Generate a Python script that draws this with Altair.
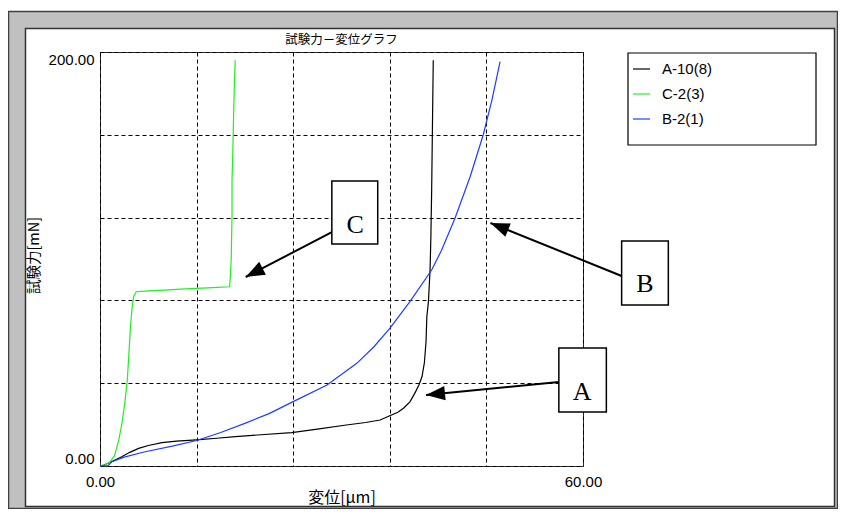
import math
import altair as alt
import pandas as pd

# ---------------- data ----------------
X_DOMAIN = [0, 60]
Y_DOMAIN = [0, 200]
X_TICKS = [0, 12, 24, 36, 48, 60]
Y_TICKS = [0, 40, 80, 120, 160, 200]

chart_title = "試験力－変位グラフ"
x_title = "変位[μm]"
y_title = "試験力[mN]"

series_names = ["A-10(8)", "C-2(3)", "B-2(1)"]
series_colors = ["#000000", "#22ee22", "#1e3cff"]

a_x = [0, 0.5, 1.0, 1.8, 2.7, 3.7, 4.8, 6.0, 7.7, 9.5, 12.0, 14.5, 16.8, 20.0, 23.8,
       27.0, 30.6, 33.0, 34.8, 36.0, 37.0, 37.7, 38.5, 39.1, 39.6, 40.0, 40.3, 40.5,
       40.6, 40.8, 41.0, 41.1, 41.2, 41.3, 41.4]
a_y = [0, 0.5, 1.3, 2.8, 4.5, 6.6, 8.5, 9.9, 11.3, 12.0, 12.6, 13.4, 14.2, 15.1, 16.1,
       17.8, 19.8, 21.0, 22.2, 24.3, 26.0, 27.9, 31.0, 35.1, 39.0, 43.1, 50.0, 60.0,
       72.1, 79.4, 94.7, 110.0, 133.0, 165.0, 196.0]

c_x = [0, 0.6, 1.2, 1.8, 2.3, 2.7, 3.1, 3.4, 3.6, 3.8, 4.0, 4.2, 4.5, 6.0, 8.0, 10.0,
       12.0, 14.0, 16.1, 16.2, 16.3, 16.4, 16.4, 16.5, 16.6, 16.7, 16.8]
c_y = [0, 0.6, 1.8, 5.0, 12.0, 20.0, 31.0, 42.0, 55.0, 68.0, 77.0, 82.0, 84.2, 84.6,
       85.0, 85.4, 85.8, 86.2, 86.6, 92.0, 100.0, 121.0, 138.0, 152.0, 170.0, 185.0, 196.0]

b_x = [0, 1.0, 1.5, 3.0, 5.6, 9.0, 12.0, 15.0, 18.0, 21.0, 24.0, 28.2, 31.9, 34.0,
       36.0, 38.5, 41.2, 42.4, 44.1, 46.0, 47.6, 48.7, 49.7]
b_y = [0, 0.2, 2.1, 4.3, 6.9, 9.6, 12.3, 16.2, 20.6, 25.3, 31.1, 39.1, 49.6, 57.5,
       66.5, 79.4, 94.7, 104.0, 119.7, 140.0, 159.9, 177.0, 195.3]

# annotations (data units)
ann_labels = ["C", "B", "A"]
ann_box_x1 = [28.8, 64.8, 57.0]
ann_box_x2 = [34.5, 70.6, 62.9]
ann_box_y1 = [107.2, 77.8, 26.1]
ann_box_y2 = [137.7, 108.7, 57.0]
ann_text_x = [31.7, 67.7, 59.9]
ann_text_y = [116.4, 87.9, 35.7]
arrow_x1 = [28.8, 64.8, 57.0]
arrow_y1 = [113.0, 91.8, 40.6]
arrow_x2 = [18.1, 48.5, 40.5]
arrow_y2 = [91.3, 117.4, 34.3]

# ---------------- layout ----------------
W, H = 483, 414
PAD = {"left": 92, "top": 44, "right": 255, "bottom": 43}
LABEL_FONT = "Liberation Sans Narrow, Arial Narrow, Liberation Sans, sans-serif"
JP_FONT = "Noto Sans CJK JP"

rows = []
for name, xs_, ys_ in [(series_names[0], a_x, a_y), (series_names[1], c_x, c_y), (series_names[2], b_x, b_y)]:
    for i, (xv, yv) in enumerate(zip(xs_, ys_)):
        rows.append({"series": name, "x": xv, "y": yv, "i": i})
curves = pd.DataFrame(rows)

xs = alt.Scale(domain=X_DOMAIN, nice=False)
ys = alt.Scale(domain=Y_DOMAIN, nice=False)

x_lab = f"datum.value == {X_DOMAIN[0]} || datum.value == {X_DOMAIN[1]} ? format(datum.value, '.2f') : ''"
y_lab = f"datum.value == {Y_DOMAIN[0]} || datum.value == {Y_DOMAIN[1]} ? format(datum.value, '.2f') : ''"

x_axis = alt.Axis(
    values=X_TICKS, labelExpr=x_lab, grid=True, gridDash=[4, 3], gridColor="black",
    gridOpacity=1, gridWidth=1, ticks=False, domain=False, labelPadding=8,
    labelFlush=False, title=x_title, titleY=31, titleBaseline="middle", titleFontSize=16)
y_axis = alt.Axis(
    values=Y_TICKS, labelExpr=y_lab, grid=True, gridDash=[4, 3], gridColor="black",
    gridOpacity=1, gridWidth=1, ticks=False, domain=False, labelPadding=6,
    labelFlush=True, title=y_title, titleX=-66, titleY=203, titleAngle=270,
    titleBaseline="middle", titleAlign="center", titleFontSize=14.5)

lines = alt.Chart(curves).mark_line(strokeWidth=1.2).encode(
    x=alt.X("x:Q", scale=xs, axis=x_axis),
    y=alt.Y("y:Q", scale=ys, axis=y_axis),
    color=alt.Color("series:N", scale=alt.Scale(domain=series_names, range=series_colors), legend=None),
    order="i:Q",
)

one = pd.DataFrame({"k": [0]})


def pix_rect(x1, y1, x2, y2, **mark):
    return alt.Chart(one).mark_rect(**mark).encode(
        x=alt.value(x1), x2=alt.value(x2), y=alt.value(y1), y2=alt.value(y2))


GRAY = "#c0c0c0"
frame = [
    pix_rect(-92, -41, 738, -23, color=GRAY),
    pix_rect(-92, 454, 738, 457, color=GRAY),
    pix_rect(-92, -23, -74, 454, color=GRAY),
    pix_rect(734, -23, 738, 454, color=GRAY),
    pix_rect(-91.5, -40.5, 737.5, 456.5, fillOpacity=0, stroke="#404040", strokeWidth=1.5),
    pix_rect(-74.5, -23.5, 734.5, 454.5, fillOpacity=0, stroke="#303030", strokeWidth=1.5),
]

title_mark = alt.Chart(one).mark_text(
    font=JP_FONT, fontSize=12.5, color="black", align="center", baseline="middle").encode(
    x=alt.value(W / 2), y=alt.value(-12), text=alt.value(chart_title))

# legend (manual, boxed like the original)
legend_layers = [pix_rect(528, 1, 716, 93, fill="white", stroke="black", strokeWidth=1.2)]
for k, (nm, col) in enumerate(zip(series_names, series_colors)):
    yy = 17 + 25 * k
    legend_layers.append(alt.Chart(one).mark_rule(color=col, strokeWidth=1.2).encode(
        x=alt.value(533), x2=alt.value(550), y=alt.value(yy)))
    legend_layers.append(alt.Chart(one).mark_text(
        align="left", baseline="middle", font=LABEL_FONT, fontSize=15, color="black").encode(
        x=alt.value(562), y=alt.value(yy), text=alt.value(nm)))

# annotations
ann = pd.DataFrame({
    "label": ann_labels, "bx1": ann_box_x1, "bx2": ann_box_x2, "by1": ann_box_y1, "by2": ann_box_y2,
    "tx": ann_text_x, "ty": ann_text_y, "ax1": arrow_x1, "ay1": arrow_y1, "ax2": arrow_x2, "ay2": arrow_y2,
})
angles = []
for x1, y1, x2, y2 in zip(arrow_x1, arrow_y1, arrow_x2, arrow_y2):
    dx = (x2 - x1) * W / (X_DOMAIN[1] - X_DOMAIN[0])
    dy = -(y2 - y1) * H / (Y_DOMAIN[1] - Y_DOMAIN[0])
    angles.append(math.degrees(math.atan2(dx, -dy)) % 360)
ann["ang"] = angles

abase = alt.Chart(ann)
arrow_lines = abase.mark_rule(color="black", strokeWidth=2).encode(
    x=alt.X("ax1:Q", scale=xs, axis=x_axis), y=alt.Y("ay1:Q", scale=ys, axis=y_axis),
    x2="ax2:Q", y2="ay2:Q")
arrow_heads = abase.mark_point(shape="M0,0L-0.38,1L0.38,1Z", filled=True, size=1444,
                               color="black", opacity=1).encode(
    x=alt.X("ax2:Q", scale=xs, axis=x_axis), y=alt.Y("ay2:Q", scale=ys, axis=y_axis),
    angle=alt.Angle("ang:Q", scale=None))
boxes = abase.mark_rect(fill="white", stroke="black", strokeWidth=1.5).encode(
    x=alt.X("bx1:Q", scale=xs, axis=x_axis), x2="bx2:Q",
    y=alt.Y("by1:Q", scale=ys, axis=y_axis), y2="by2:Q")
letters = abase.mark_text(font="Liberation Serif", fontSize=26, baseline="middle",
                          align="center", color="black").encode(
    x=alt.X("tx:Q", scale=xs, axis=x_axis), y=alt.Y("ty:Q", scale=ys, axis=y_axis), text="label:N")

chart = alt.layer(
    *frame, title_mark, lines, arrow_lines, boxes, arrow_heads, letters, *legend_layers
).properties(
    width=W, height=H,
    autosize=alt.AutoSizeParams(type="none"),
    padding=PAD,
    background="white",
).configure_view(
    stroke="#303030", strokeWidth=1
).configure_axis(
    labelFont=LABEL_FONT, labelFontSize=15, labelColor="black",
    titleFont=JP_FONT, titleFontWeight="normal", titleColor="black",
)

chart.save("out.html", embed_options={"renderer": "svg", "actions": False})
